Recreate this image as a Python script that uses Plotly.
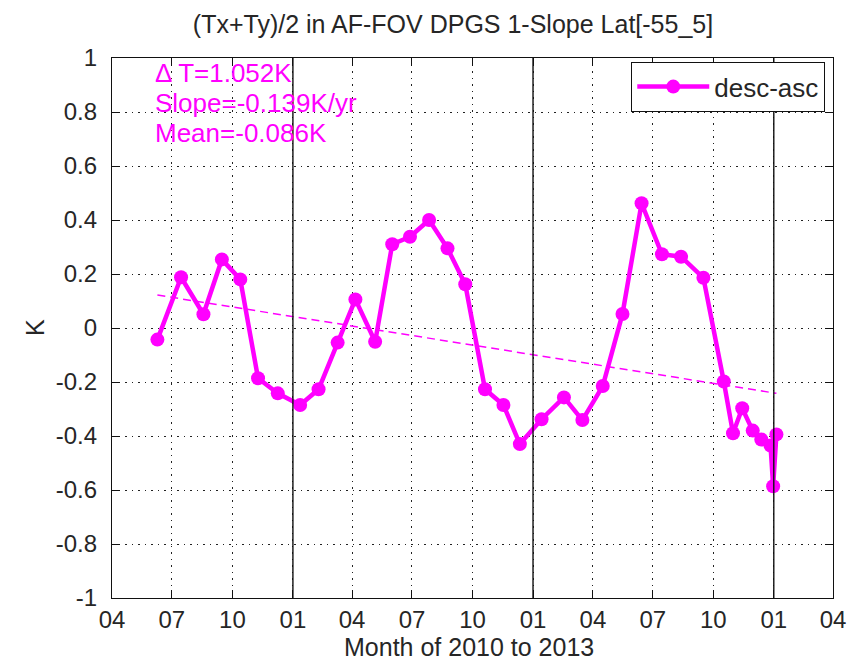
import plotly.graph_objects as go

# ---- data ----
dates = [
    "2010-06-09", "2010-07-15", "2010-08-18", "2010-09-15", "2010-10-13",
    "2010-11-09", "2010-12-09", "2011-01-12", "2011-02-09", "2011-03-10",
    "2011-04-06", "2011-05-06", "2011-06-01", "2011-06-28", "2011-07-27",
    "2011-08-24", "2011-09-20", "2011-10-20", "2011-11-17", "2011-12-12",
    "2012-01-14", "2012-02-17", "2012-03-16", "2012-04-16", "2012-05-16",
    "2012-06-14", "2012-07-15", "2012-08-13", "2012-09-16", "2012-10-17",
    "2012-10-31", "2012-11-14", "2012-11-30", "2012-12-13", "2012-12-27",
    "2012-12-31", "2013-01-05",
]
desc_asc = [
    -0.043, 0.188, 0.051, 0.254, 0.180,
    -0.186, -0.242, -0.285, -0.227, -0.054,
    0.106, -0.051, 0.310, 0.338, 0.400,
    0.295, 0.162, -0.227, -0.285, -0.430,
    -0.338, -0.257, -0.341, -0.215, 0.052,
    0.462, 0.273, 0.264, 0.186, -0.198,
    -0.390, -0.297, -0.380, -0.413, -0.435,
    -0.586, -0.394,
]
trend_dates = ["2010-06-09", "2013-01-05"]
trend_vals = [0.122, -0.242]

year_lines = ["2011-01-01", "2012-01-01", "2013-01-01"]
y_tickvals = [1, 0.8, 0.6, 0.4, 0.2, 0, -0.2, -0.4, -0.6, -0.8, -1]
y_ticktext = ["1", "0.8", "0.6", "0.4", "0.2", "0", "-0.2", "-0.4", "-0.6", "-0.8", "-1"]

title_text = "(Tx+Ty)/2 in AF-FOV DPGS 1-Slope Lat[-55_5]"
stats_text = ["\u0394 T=1.052K", "Slope=-0.139K/yr", "Mean=-0.086K"]

MAG = "#FF00FF"
FONT = "Liberation Sans, Arial, Helvetica, sans-serif"
TXT = "#262626"

fig = go.Figure()
fig.add_trace(go.Scatter(
    x=trend_dates, y=trend_vals, mode="lines",
    line=dict(color=MAG, width=1.5, dash="8px,5px"),
    showlegend=False, hoverinfo="skip",
))
fig.add_trace(go.Scatter(
    x=dates, y=desc_asc, mode="lines+markers", name="desc-asc",
    line=dict(color=MAG, width=4.5),
    marker=dict(color=MAG, size=14, line=dict(width=0)),
))

for d in year_lines:
    fig.add_shape(type="line", xref="x", yref="paper", x0=d, x1=d, y0=0, y1=1,
                  line=dict(color="#111", width=1.4), layer="above")

W, H = 860, 662
L, R, T, B = 112, 27, 58, 64
pw, ph = W - L - R, H - T - B

def px_to_paper_x(px):
    return (px - L) / pw

def py_to_paper_y(py):
    return (H - B - py) / ph

for txt, ypix in zip(stats_text, [73, 103, 133]):
    fig.add_annotation(text=txt, xref="paper", yref="paper",
                       x=px_to_paper_x(153), y=py_to_paper_y(ypix),
                       xanchor="left", yanchor="middle", showarrow=False,
                       font=dict(family=FONT, size=26, color=MAG))

fig.add_annotation(text="Month of 2010 to 2013", xref="paper", yref="paper",
                   x=px_to_paper_x(469), y=py_to_paper_y(647),
                   xanchor="center", yanchor="middle", showarrow=False,
                   borderpad=0,
                   font=dict(family=FONT, size=25, color=TXT))
fig.add_annotation(text="K", xref="paper", yref="paper",
                   x=px_to_paper_x(35), y=0.5, textangle=-90,
                   xanchor="center", yanchor="middle", showarrow=False,
                   font=dict(family=FONT, size=25, color=TXT))

fig.update_layout(
    width=W, height=H,
    margin=dict(l=L, r=R, t=T, b=B, pad=0),
    paper_bgcolor="white", plot_bgcolor="white",
    font=dict(family=FONT, size=24, color=TXT),
    title=dict(text=title_text, x=453 / W, xanchor="center",
               y=1 - 24 / H, yanchor="middle",
               font=dict(family=FONT, size=25, color=TXT)),
    showlegend=True,
    legend=dict(x=0.989, y=0.9926, xanchor="right", yanchor="top",
                bgcolor="white", bordercolor="#111", borderwidth=1.2,
                font=dict(family=FONT, size=26, color=TXT),
                itemwidth=72, tracegroupgap=0),
    xaxis=dict(type="date", range=["2010-04-01", "2013-04-01"],
               tick0="2010-04-01", dtick="M3", tickformat="%m",
               ticks="inside", ticklen=8, tickcolor="#111",
               showline=True, linecolor="#111", linewidth=1.2, mirror="ticks",
               showgrid=True, gridcolor="#222", gridwidth=1, griddash="1.5px,5px",
               zeroline=False, ticklabelstandoff=0,
               tickfont=dict(family=FONT, size=24, color=TXT)),
    yaxis=dict(range=[-1, 1], tickvals=y_tickvals, ticktext=y_ticktext,
               ticks="inside", ticklen=8, tickcolor="#111",
               showline=True, linecolor="#111", linewidth=1.2, mirror="ticks",
               showgrid=True, gridcolor="#222", gridwidth=1, griddash="1.5px,5px",
               zeroline=False, ticklabelstandoff=9,
               tickfont=dict(family=FONT, size=24, color=TXT)),
)

fig.write_html("out.html")
